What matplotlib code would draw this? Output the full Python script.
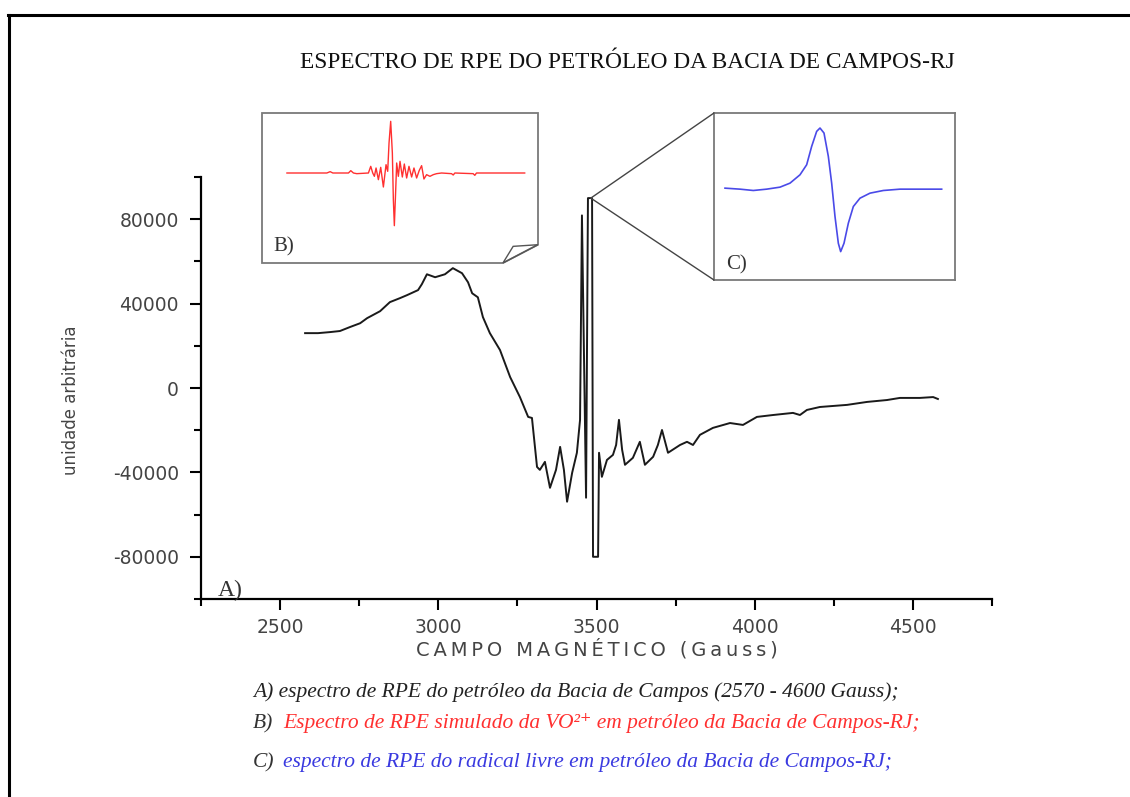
import matplotlib
matplotlib.use("Agg")
import matplotlib.pyplot as plt
from matplotlib.lines import Line2D
from matplotlib.patches import Polygon, ConnectionPatch

# main EPR spectrum (field in Gauss, arbitrary units)
campo = [2579, 2620, 2658, 2689, 2721, 2753, 2775, 2816, 2847, 2879, 2901, 2936,
         2948, 2964, 2990, 3021, 3046, 3075, 3094, 3107, 3125, 3141, 3163, 3195,
         3227, 3258, 3284, 3296, 3312, 3321, 3337, 3353, 3372, 3385, 3397, 3407,
         3423, 3438, 3448, 3454, 3467, 3473, 3486, 3489, 3505, 3508, 3517, 3533,
         3552, 3562, 3571, 3581, 3590, 3615, 3637, 3653, 3679, 3694, 3707, 3726,
         3764, 3786, 3805, 3827, 3868, 3922, 3963, 4007, 4058, 4121, 4143, 4165,
         4206, 4292, 4355, 4418, 4459, 4522, 4564, 4579]
sinal = [26000, 26000, 26500, 27000, 28900, 30700, 33100, 36400, 40700, 42600, 44000, 46400,
         49200, 53900, 52500, 53900, 56800, 54400, 50100, 44900, 43000, 33600, 26000, 18000,
         5200, -4300, -13700, -14200, -37400, -38800, -35000, -47300, -38800, -27900, -38800, -53900,
         -40200, -30700, -15100, 81800, -52000, 90000, 90000, -80000, -80000, -30700, -42100, -34100,
         -31700, -27000, -15100, -29300, -36400, -33100, -25500, -36400, -32600, -27000, -19900, -30700,
         -27000, -25500, -27000, -22200, -18900, -16600, -17500, -13700, -12800, -11800, -12800, -10400,
         -9000, -8000, -6600, -5700, -4700, -4700, -4300, -5200]

# inset B: simulated VO2+ spectrum (arbitrary units)
b_x = [80, 200, 210, 218, 265, 272, 280, 290, 325, 332, 338, 343, 348, 355, 362, 370,
       378, 383, 387, 392, 397, 400, 403, 406, 410, 415, 420, 427, 433, 440, 447, 455,
       462, 470, 478, 485, 492, 500, 510, 520, 530, 545, 575, 580, 585, 640, 645, 650, 795]
b_y = [0, 0, 4, 0, 0, 7, 0, -2, 0, 20, 0, -10, 15, -20, 17, -42,
       25, 5, 90, 155, 60, -80, -158, -80, 30, -10, 35, -12, 27, -15, 20, -12,
       15, -15, 8, 22, -18, -5, -10, -5, -2, 0, -2, -6, 0, -2, -7, 0, 0]

# inset C: free radical spectrum (arbitrary units)
c_x = [75, 120, 160, 200, 240, 270, 300, 320, 335, 350, 360, 372, 385, 395, 405,
       415, 422, 432, 445, 460, 480, 510, 550, 600, 650, 725]
c_y = [3, 0, -4, 0, 6, 18, 43, 73, 128, 173, 183, 168, 98, 18, -82,
       -162, -187, -162, -102, -52, -27, -12, -4, 0, 0, 0]

titulo = "ESPECTRO DE RPE DO PETRÓLEO DA BACIA DE CAMPOS-RJ"
legenda_a = "A) espectro de RPE do petróleo da Bacia de Campos (2570 - 4600 Gauss);"
legenda_b = "Espectro de RPE simulado da VO²⁺ em petróleo da Bacia de Campos-RJ;"
legenda_c = "espectro de RPE do radical livre em petróleo da Bacia de Campos-RJ;"

W, H = 1130, 797
def fx(p):
    return p / W
def fy(p):
    return 1 - p / H

plt.rcParams['axes.unicode_minus'] = False

fig = plt.figure(figsize=(11.3, 7.97), dpi=100)

# outer frame (top and left only)
fig.add_artist(Line2D([fx(8), 1], [fy(15), fy(15)], color='black', lw=2.2))
fig.add_artist(Line2D([fx(9), fx(9)], [fy(15), 0], color='black', lw=2.2))

ax = fig.add_axes([fx(201), fy(599), (992 - 201) / W, (599 - 177) / H])
ax.plot(campo, sinal, color='#1a1a1a', lw=1.4)
ax.set_xlim(2250, 4750)
ax.set_ylim(-100000, 100000)
ax.set_xticks([2500, 3000, 3500, 4000, 4500])
ax.set_xticks([2250, 2750, 3250, 3750, 4250, 4750], minor=True)
ax.set_yticks([-80000, -40000, 0, 40000, 80000])
ax.set_yticks([-100000, -60000, -20000, 20000, 60000, 100000], minor=True)
for s in ['top', 'right']:
    ax.spines[s].set_visible(False)
for s in ['left', 'bottom']:
    ax.spines[s].set_linewidth(1.6)
ax.tick_params(which='major', length=8, width=1.5, labelsize=13.5, labelcolor='#444444')
ax.tick_params(axis='y', which='major', pad=8)
ax.tick_params(axis='x', which='major', pad=6)
ax.tick_params(which='minor', length=5, width=1.5)
ax.set_xlabel('\u2009'.join("CAMPO MAGNÉTICO (Gauss)"), fontsize=14, color='#444444')
ax.xaxis.set_label_coords(0.5, -0.095)
ax.set_ylabel("unidade arbitrária", fontsize=12, color='#444444')
ax.yaxis.set_label_coords(-0.153, 0.47)
fig.text(fx(218), fy(596), "A)", family='Liberation Serif', fontsize=17, color='#333333')

# inset B with folded corner
axb = fig.add_axes([fx(262), fy(263), (538 - 262) / W, (263 - 113) / H])
axb.plot(b_x, b_y, color='#ff3030', lw=1.0)
axb.set_xlim(5, 835)
axb.set_ylim(-270, 180)
axb.axis('off')
axb.add_patch(Polygon([(0, 0), (0.873, 0), (1, 0.122), (1, 1), (0, 1)], closed=True,
                      fill=False, ec='#7a7a7a', lw=1.3, transform=axb.transAxes, clip_on=False))
axb.add_patch(Polygon([(0.873, 0), (0.91, 0.111), (1, 0.122)], closed=True,
                      fill=False, ec='#555555', lw=1.0, transform=axb.transAxes, clip_on=False))
axb.text(0.04, 0.08, "B)", transform=axb.transAxes, family='Liberation Serif',
         fontsize=15, color='#333333')

# inset C
axc = fig.add_axes([fx(714), fy(280), (955 - 714) / W, (280 - 113) / H])
axc.plot(c_x, c_y, color='#4a4ae8', lw=1.2)
axc.set_xlim(42, 765)
axc.set_ylim(-272, 228)
axc.set_xticks([])
axc.set_yticks([])
for s in axc.spines.values():
    s.set_color('#7a7a7a')
    s.set_linewidth(1.3)
axc.text(0.05, 0.06, "C)", transform=axc.transAxes, family='Liberation Serif',
         fontsize=15, color='#333333')

for yb in (1, 0):
    fig.add_artist(ConnectionPatch(xyA=(3482, 90000), coordsA=ax.transData,
                                   xyB=(0, yb), coordsB=axc.transAxes,
                                   color='#444444', lw=1.0))

fig.text(fx(627), fy(62), titulo, family='Liberation Serif', fontsize=16.8,
         ha='center', va='center', color='#111111')

cap = dict(family=['Liberation Serif', 'DejaVu Serif'], style='italic', fontsize=15.5,
           va='baseline')
fig.text(fx(253), fy(697), legenda_a, color='#222222', **cap)
fig.text(fx(253), fy(728), "B)", color='#333333', **cap)
fig.text(fx(283), fy(728), legenda_b, color='#ff3030', **cap)
fig.text(fx(253), fy(767), "C)", color='#333333', **cap)
fig.text(fx(283), fy(767), legenda_c, color='#3a3ae0', **cap)

fig.savefig("out.png", dpi=100)
